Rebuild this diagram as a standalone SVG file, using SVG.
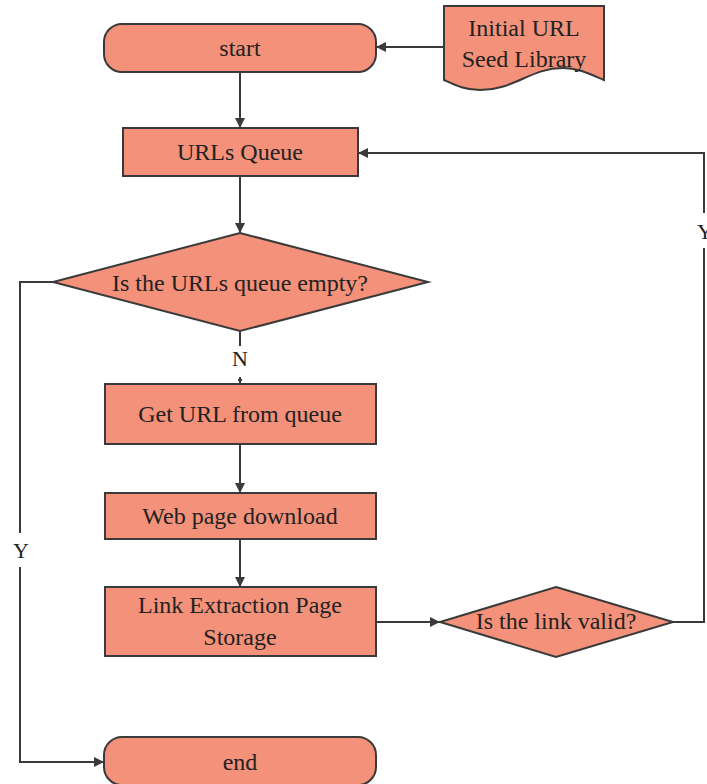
<svg xmlns="http://www.w3.org/2000/svg" width="707" height="784" viewBox="0 0 707 784">
  <defs>
    <marker id="arrow" viewBox="0 0 10 10" refX="10" refY="5" markerWidth="10" markerHeight="10" markerUnits="userSpaceOnUse" orient="auto">
      <path d="M0,0 L10,5 L0,10 z" fill="#3a3a3a"/>
    </marker>
    <marker id="arrowSmall" viewBox="0 0 10 10" refX="10" refY="5" markerWidth="5" markerHeight="5" markerUnits="userSpaceOnUse" orient="auto">
      <path d="M0,0 L10,5 L0,10 z" fill="#3a3a3a"/>
    </marker>
  </defs>
  <style>
    .shape { fill: #F4917A; stroke: #3a3a3a; stroke-width: 2; }
    .label { font-family: "Liberation Serif", "Times New Roman", serif; font-size: 24px; fill: #222; text-anchor: middle; }
    .edge { fill: none; stroke: #3a3a3a; stroke-width: 2; }
  </style>
  <rect width="707" height="784" fill="#ffffff"/>

  <g id="connectors">
    <!-- seed library into start -->
    <path class="edge" d="M444,47 L376,47" marker-end="url(#arrow)"/>
    <!-- start to queue -->
    <path class="edge" d="M240,72 L240,128" marker-end="url(#arrow)"/>
    <!-- queue to decision -->
    <path class="edge" d="M240,176 L240,233" marker-end="url(#arrow)"/>
    <!-- decision N branch -->
    <path class="edge" d="M240,331 L240,346"/>
    <path class="edge" d="M240,377 L240,384" marker-end="url(#arrowSmall)"/>
    <text class="label" x="240" y="366" style="font-size:22px">N</text>
    <!-- decision Y branch to end -->
    <path class="edge" d="M53,282 L20,282 L20,533"/>
    <path class="edge" d="M20,567 L20,762 L104,762" marker-end="url(#arrow)"/>
    <text class="label" x="21" y="558" style="font-size:22px">Y</text>
    <!-- processing chain -->
    <path class="edge" d="M240,444 L240,493" marker-end="url(#arrow)"/>
    <path class="edge" d="M240,539 L240,587" marker-end="url(#arrow)"/>
    <path class="edge" d="M376,622 L440,622" marker-end="url(#arrow)"/>
    <!-- valid link back to queue -->
    <path class="edge" d="M673,622 L704,622 L704,248"/>
    <path class="edge" d="M704,213 L704,153 L358,153" marker-end="url(#arrow)"/>
    <text class="label" x="705" y="239" style="font-size:22px">Y</text>
  </g>

  <g id="seed">
    <path class="shape" d="M444,6 L604,6 L604,80 C590,74 578,68 563,68 C530,68 515,90 480,90 C465,90 455,85 444,80 Z"/>
    <text class="label" x="524" y="36">Initial URL</text>
    <text class="label" x="524" y="67">Seed Library</text>
  </g>

  <g id="start">
    <rect class="shape" x="104" y="24" width="272" height="48" rx="18" ry="18"/>
    <text class="label" x="240" y="56">start</text>
  </g>

  <g id="queue">
    <rect class="shape" x="123" y="128" width="235" height="48"/>
    <text class="label" x="240" y="160">URLs Queue</text>
  </g>

  <g id="empty-check">
    <polygon class="shape" points="240,233 428,282 240,331 53,282"/>
    <text class="label" x="240" y="291">Is the URLs queue empty?</text>
  </g>

  <g id="get-url">
    <rect class="shape" x="105" y="384" width="271" height="60"/>
    <text class="label" x="240" y="422">Get URL from queue</text>
  </g>

  <g id="download">
    <rect class="shape" x="105" y="493" width="271" height="46"/>
    <text class="label" x="240" y="524">Web page download</text>
  </g>

  <g id="extract">
    <rect class="shape" x="105" y="587" width="271" height="69"/>
    <text class="label" x="240" y="613">Link Extraction Page</text>
    <text class="label" x="240" y="645">Storage</text>
  </g>

  <g id="valid-check">
    <polygon class="shape" points="556,587 673,622 556,657 440,622"/>
    <text class="label" x="556" y="629">Is the link valid?</text>
  </g>

  <g id="end">
    <rect class="shape" x="104" y="737" width="272" height="48" rx="18" ry="18"/>
    <text class="label" x="240" y="770">end</text>
  </g>
</svg>
